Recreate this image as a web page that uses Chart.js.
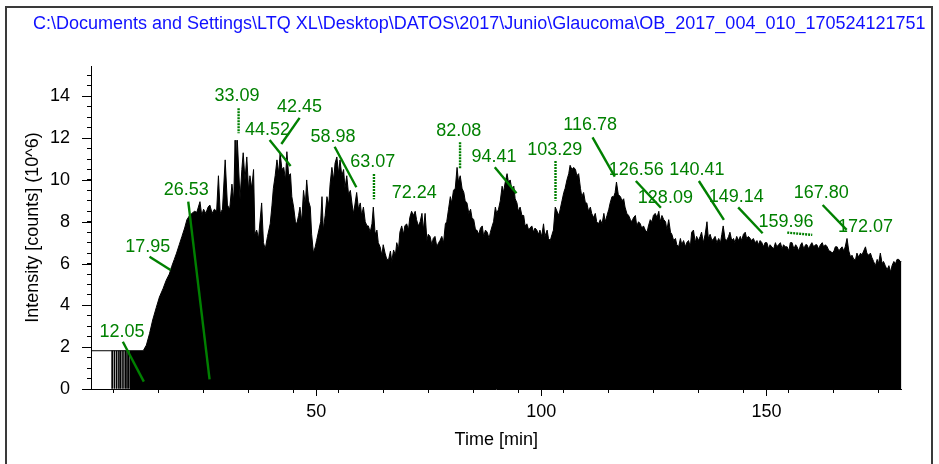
<!DOCTYPE html>
<html><head><meta charset="utf-8">
<script src="https://cdn.jsdelivr.net/npm/chart.js@4.4.1/dist/chart.umd.min.js"></script>
<style>html,body{margin:0;padding:0;background:#fff}#wrap{width:939px;height:464px;position:relative}</style>
</head><body><div id="wrap"><canvas id="c" width="939" height="464"></canvas></div>
<script>
const titleText = 'C:\\Documents and Settings\\LTQ XL\\Desktop\\DATOS\\2017\\Junio\\Glaucoma\\OB_2017_004_010_170524121751';
const xAxisTitle = 'Time [min]';
const yAxisTitle = 'Intensity [counts] (10^6)';

// pre-run baseline (unfilled) and sparse early scans
const preRunTimes = [0, 8.6];
const preRunValues = [1.83, 1.83];
const scanTimes = [4.7, 5.2, 5.7, 6.2, 6.6, 7.1, 7.6, 8.0, 8.4];
const scanValues = [1.83, 1.83, 1.83, 1.83, 1.83, 1.83, 1.83, 1.83, 1.83];

// TIC (x10^6 counts)
const times = [8.6,11.6,12.3,13.0,13.7,14.5,15.2,16.0,16.7,17.4,17.9,18.5,19.0,19.6,20.2,20.8,21.3,21.9,22.4,23.0,23.5,24.2,24.6,25.0,25.5,26.0,26.4,26.9,27.4,27.9,28.3,28.7,29.2,29.8,30.3,30.8,31.3,31.7,32.0,32.2,32.5,33.1,33.5,33.8,34.2,34.6,35.0,35.3,35.7,36.1,36.4,36.8,37.2,37.9,38.3,38.7,39.2,39.8,40.2,40.5,40.9,41.3,41.7,42.0,42.4,42.8,43.2,43.5,43.9,44.3,44.6,45.0,45.4,45.7,46.1,46.4,46.8,47.2,47.6,47.9,48.3,48.7,49.0,49.4,49.8,50.1,50.6,51.0,51.3,51.6,52.0,52.4,52.8,53.1,53.5,53.9,54.2,54.6,55.0,55.3,55.7,56.1,56.4,56.8,57.2,57.6,58.0,58.3,58.6,59.0,59.4,59.8,60.1,60.5,60.9,61.3,61.6,62.0,62.4,62.7,63.1,63.5,63.8,64.2,64.6,64.9,65.3,65.7,66.1,66.5,66.8,67.2,67.6,67.9,68.3,68.6,69.0,69.4,69.7,70.1,70.5,70.8,71.2,71.6,72.0,72.3,72.7,73.1,73.5,73.8,74.2,74.6,74.9,75.3,75.7,76.0,76.4,76.8,77.2,77.5,77.9,78.3,78.7,79.0,79.4,79.8,80.1,80.5,80.9,81.3,81.6,82.0,82.4,82.8,83.1,83.5,83.9,84.3,84.6,85.0,85.4,85.7,86.1,86.5,86.9,87.2,87.6,88.0,88.4,88.7,89.1,89.4,89.8,90.1,90.5,90.9,91.3,91.6,92.0,92.4,92.7,93.1,93.5,93.9,94.2,94.6,94.9,95.3,95.7,96.1,96.4,96.8,97.2,97.5,97.9,98.3,98.6,99.0,99.4,99.7,100.1,100.5,100.8,101.3,101.6,102.0,102.4,102.7,103.1,103.5,103.9,104.2,104.6,105.0,105.3,105.7,106.1,106.4,106.8,107.2,107.6,107.9,108.3,108.7,109.0,109.4,109.8,110.1,110.5,110.9,111.2,111.6,112.0,112.3,112.7,113.1,113.5,113.9,114.2,114.6,115.0,115.3,115.7,116.1,116.4,116.7,117.1,117.6,117.9,118.3,118.6,119.0,119.4,119.8,120.1,120.5,120.9,121.2,121.6,122.0,122.3,122.7,123.1,123.5,123.8,124.2,124.6,124.9,125.3,125.7,126.1,126.4,126.8,127.2,127.6,127.9,128.3,128.7,129.0,129.4,129.8,130.1,130.5,130.9,131.2,131.6,132.0,132.3,132.7,133.1,133.4,133.8,134.2,134.5,134.9,135.3,135.6,136.0,136.4,136.8,137.1,137.5,137.9,138.3,138.6,139.0,139.4,139.8,140.1,140.4,140.8,141.2,141.6,141.9,142.3,142.7,143.0,143.4,143.8,144.2,144.5,144.9,145.3,145.6,146.0,146.4,146.7,147.1,147.5,147.9,148.2,148.6,149.0,149.3,149.7,150.1,150.5,150.8,151.2,151.6,152.0,152.3,152.7,153.1,153.5,153.8,154.2,154.6,155.0,155.3,155.7,156.1,156.5,156.8,157.2,157.6,157.9,158.3,158.7,159.0,159.4,159.8,160.1,160.5,160.9,161.2,161.6,162.0,162.4,162.7,163.1,163.5,163.9,164.2,164.6,165.0,165.3,165.7,166.1,166.4,166.8,167.2,167.5,167.9,168.3,168.7,169.0,169.4,169.8,170.1,170.5,170.9,171.2,171.6,172.0,172.3,172.7,173.1,173.4,173.8,174.2,174.6,174.9,175.3,175.7,176.0,176.4,176.8,177.2,177.6,177.9,178.3,178.7,179.0,179.4,179.7,180.0];
const intensity = [1.83,1.83,2.1,2.65,3.3,3.9,4.4,4.8,5.2,5.5,5.85,6.2,6.5,6.9,7.3,7.7,8.1,8.3,8.4,8.5,8.45,8.96,8.3,8.6,8.4,8.7,8.8,8.4,8.6,8.5,10.2,8.4,8.6,10.96,8.8,8.6,9.8,9.0,11.9,10.5,11.9,9.1,10.5,11.3,10.0,11.1,9.5,10.2,9.6,10.5,7.4,7.6,7.2,8.9,7.0,6.7,7.3,7.9,8.8,9.6,10.2,10.96,10.3,11.3,10.5,10.6,10.0,11.35,10.2,10.3,9.2,8.7,8.0,7.9,8.3,8.7,8.0,9.5,8.8,10.0,9.0,8.7,7.4,6.5,6.8,7.1,7.6,8.0,9.2,7.6,8.3,9.2,8.8,9.8,10.6,10.0,10.8,11.1,10.3,10.96,10.2,10.5,9.6,10.2,9.3,9.5,8.8,8.4,8.8,9.4,8.6,8.9,8.3,8.7,8.0,7.8,7.8,7.5,7.9,8.7,7.4,7.6,7.0,6.8,6.4,6.9,6.5,6.2,6.2,6.6,6.1,6.65,6.4,7.0,6.7,7.5,7.8,7.4,7.8,7.9,7.6,8.2,8.5,8.3,8.5,8.1,7.8,8.0,8.4,7.6,8.4,7.1,7.4,7.3,6.9,7.2,7.3,6.8,7.0,7.1,7.3,7.0,7.9,8.0,8.6,9.2,8.9,9.5,9.6,10.6,9.9,10.2,9.6,9.4,9.0,8.9,8.4,8.6,8.2,8.1,7.6,7.6,7.4,7.7,7.8,7.3,7.6,7.5,7.2,7.5,7.8,8.0,8.7,8.4,8.6,9.0,9.7,9.4,9.9,10.3,9.9,10.0,9.5,9.7,9.1,8.9,8.5,8.7,8.3,8.3,7.8,7.9,7.6,7.7,7.8,7.5,7.7,7.6,7.4,7.6,7.3,7.9,7.3,7.6,7.2,7.1,7.4,7.6,8.7,8.5,8.3,8.6,9.0,9.4,9.6,10.0,10.3,10.7,10.5,10.6,10.5,10.2,10.3,9.6,9.2,9.4,8.9,8.9,8.5,8.7,8.4,8.2,8.4,8.0,7.9,8.1,7.9,8.4,8.0,8.3,8.6,8.9,9.2,9.2,9.4,9.9,9.3,9.2,9.0,9.1,8.7,8.4,8.3,8.1,8.0,8.2,8.3,7.8,8.0,7.9,7.7,7.8,7.6,7.5,7.8,8.1,8.0,8.3,8.4,8.2,8.5,8.0,8.3,8.1,8.0,7.6,8.1,7.5,7.4,7.1,7.2,6.9,6.8,7.2,6.9,7.1,6.8,7.0,7.1,6.8,7.5,7.6,7.0,7.3,7.1,7.3,7.5,7.0,7.4,8.0,7.2,7.4,7.1,7.2,7.3,7.0,7.2,7.0,7.4,7.8,7.2,7.1,7.3,7.5,7.1,7.2,7.0,7.3,7.1,7.3,7.1,7.4,7.5,7.2,7.3,7.2,7.1,7.2,7.0,7.1,6.9,7.1,7.0,6.8,7.0,7.0,6.7,6.9,6.8,6.7,7.0,6.8,6.9,7.0,6.7,6.9,6.8,6.8,6.6,7.0,7.0,6.7,6.9,6.8,6.6,6.9,7.0,6.7,6.9,6.9,6.7,6.9,7.0,6.8,6.9,6.9,6.7,6.9,7.0,6.8,6.9,6.8,6.6,6.6,6.5,6.6,6.8,6.8,6.6,6.7,6.8,6.6,6.8,7.2,6.6,6.3,6.4,6.2,6.2,6.5,6.3,6.5,6.4,6.6,6.8,6.5,6.4,6.5,6.3,6.1,5.9,6.2,6.0,6.5,6.0,6.1,5.9,5.7,5.9,5.6,5.9,6.1,6.0,6.2,6.2,6.1,6.1];

// peak annotations: label text, label anchor (min, 10^6), leader from/to (min, 10^6) or null
const peakNames = ['12.05','17.95','26.53','33.09','42.45','44.52','58.98','63.07','72.24','82.08','94.41','103.29','116.78','126.56','128.09','140.41','149.14','159.96','167.80','172.07'];
const labelAt = [[6.89,2.74],[12.62,6.81],[21.16,9.52],[32.44,13.99],[46.33,13.51],[39.22,12.39],[53.73,12.07],[62.56,10.88],[71.78,9.39],[81.67,12.36],[89.51,11.11],[103.0,11.44],[110.84,12.63],[121.11,10.48],[127.56,9.12],[134.56,10.48],[143.29,9.2],[154.33,8.0],[162.18,9.36],[172.0,7.77]];
const leaders = [[[7.07,2.26],[11.73,0.35]],[[13.0,6.33],[17.67,5.69]],[[21.6,8.96],[26.33,0.46]],[[32.78,13.43],[32.78,12.23]],[[46.33,12.97],[42.27,11.72]],[[39.67,11.91],[44.33,10.67]],[[54.11,11.59],[58.93,9.65]],[[62.84,10.29],[62.84,9.08]],null,[[81.96,11.8],[81.96,10.56]],[[89.67,10.61],[94.49,9.36]],[[103.16,10.91],[103.16,9.01]],[[111.38,12.04],[116.33,10.16]],[[121.0,9.95],[126.56,8.67]],null,[[135.0,9.95],[140.56,8.09]],[[143.73,8.69],[149.16,7.45]],[[154.62,7.48],[160.18,7.37]],[[162.49,8.8],[167.82,7.61]],null];

const FONT = '"Liberation Sans", Arial, sans-serif';
const GREEN = 'rgb(0,128,0)';

const frameAndTitle = {
  id: 'frameAndTitle',
  afterDraw(chart) {
    const ctx = chart.ctx;
    ctx.save();
    ctx.strokeStyle = '#3a3a3a'; ctx.lineWidth = 2; ctx.setLineDash([]);
    ctx.beginPath(); ctx.moveTo(6, 464); ctx.lineTo(6, 7); ctx.lineTo(932, 7); ctx.lineTo(932, 464); ctx.stroke();
    ctx.beginPath(); ctx.rect(8, 8, 923, 40); ctx.clip();
    ctx.fillStyle = '#1010ff'; ctx.font = '18px ' + FONT; ctx.textAlign = 'left'; ctx.textBaseline = 'middle';
    ctx.fillText(titleText, 33, 24);
    ctx.restore();
  }
};

const majorTicks = {
  id: 'majorTicks',
  afterDraw(chart) {
    const {ctx, scales: {x, y}} = chart;
    ctx.save(); ctx.strokeStyle = '#000'; ctx.lineWidth = 1;
    y.ticks.forEach(t => {
      if (Math.abs(t.value % 2) < 1e-9) {
        const py = Math.round(y.getPixelForValue(t.value)) + 0.5;
        ctx.beginPath(); ctx.moveTo(y.right - 9, py); ctx.lineTo(y.right, py); ctx.stroke();
      }
    });
    x.ticks.forEach(t => {
      if (Math.abs(t.value % 50) < 1e-9 && t.value > 0) {
        const px = Math.round(x.getPixelForValue(t.value)) + 0.5;
        ctx.beginPath(); ctx.moveTo(px, x.top); ctx.lineTo(px, x.top + 7); ctx.stroke();
      }
    });
    ctx.restore();
  }
};

const peakLabels = {
  id: 'peakLabels',
  afterDatasetsDraw(chart) {
    const {ctx, scales: {x, y}} = chart;
    ctx.save();
    ctx.strokeStyle = GREEN; ctx.fillStyle = GREEN; ctx.lineWidth = 2.4; ctx.lineCap = 'butt';
    leaders.forEach(l => {
      if (!l) return;
      const x0 = x.getPixelForValue(l[0][0]), y0 = y.getPixelForValue(l[0][1]);
      const x1 = x.getPixelForValue(l[1][0]), y1 = y.getPixelForValue(l[1][1]);
      const vertical = Math.abs(x1 - x0) < 1 || Math.abs(y1 - y0) < 4;
      ctx.setLineDash(vertical ? [2, 1] : []);
      ctx.beginPath(); ctx.moveTo(x0, y0); ctx.lineTo(x1, y1); ctx.stroke();
    });
    ctx.setLineDash([]);
    ctx.font = '18px ' + FONT; ctx.textAlign = 'center'; ctx.textBaseline = 'middle';
    peakNames.forEach((n, i) => {
      ctx.fillText(n, x.getPixelForValue(labelAt[i][0]), y.getPixelForValue(labelAt[i][1]));
    });
    ctx.restore();
  }
};

Chart.defaults.font.family = FONT;
Chart.defaults.font.size = 18;
Chart.defaults.color = '#000';

new Chart(document.getElementById('c'), {
  type: 'line',
  data: {
    datasets: [
      { type: 'line', data: preRunTimes.map((t, i) => ({x: t, y: preRunValues[i]})), borderColor: '#000', borderWidth: 1, pointRadius: 0, fill: false },
      { type: 'bar', data: scanTimes.map((t, i) => ({x: t, y: scanValues[i]})), backgroundColor: '#000', borderWidth: 0, barThickness: 1 },
      { type: 'line', data: times.map((t, i) => ({x: t, y: intensity[i]})), borderColor: '#000', backgroundColor: '#000', borderWidth: 1, pointRadius: 0, tension: 0, fill: 'origin' }
    ]
  },
  options: {
    responsive: false, animation: false, devicePixelRatio: 1,
    layout: { padding: { top: 66, right: 37.5, left: 0, bottom: 0 } },
    plugins: { legend: { display: false }, tooltip: { enabled: false }, title: { display: false } },
    scales: {
      x: {
        type: 'linear', min: 0, max: 180, offset: false,
        afterFit: s => { s.height = 75; },
        border: { display: true, color: '#000', width: 1 },
        grid: { drawOnChartArea: false, drawTicks: true, tickLength: 4, tickColor: '#000' },
        ticks: { stepSize: 10, autoSkip: false, maxRotation: 0, includeBounds: false, padding: 8,
          callback: v => (v > 0 && v % 50 === 0) ? String(v) : '' },
        title: { display: true, text: xAxisTitle, padding: { top: 0, bottom: 13 }, font: { size: 18 } }
      },
      y: {
        min: 0, max: 15.45,
        afterFit: s => { s.width = 91; },
        border: { display: true, color: '#000', width: 1 },
        grid: { drawOnChartArea: false, drawTicks: true, tickLength: 4, tickColor: '#000' },
        ticks: { stepSize: 0.5, autoSkip: false, includeBounds: false, padding: 17,
          callback: v => (v % 2 === 0) ? String(v) : '' },
        title: { display: true, text: yAxisTitle, padding: { top: 22, bottom: 0 }, font: { size: 18 } }
      }
    }
  },
  plugins: [frameAndTitle, majorTicks, peakLabels]
});
</script></body></html>
